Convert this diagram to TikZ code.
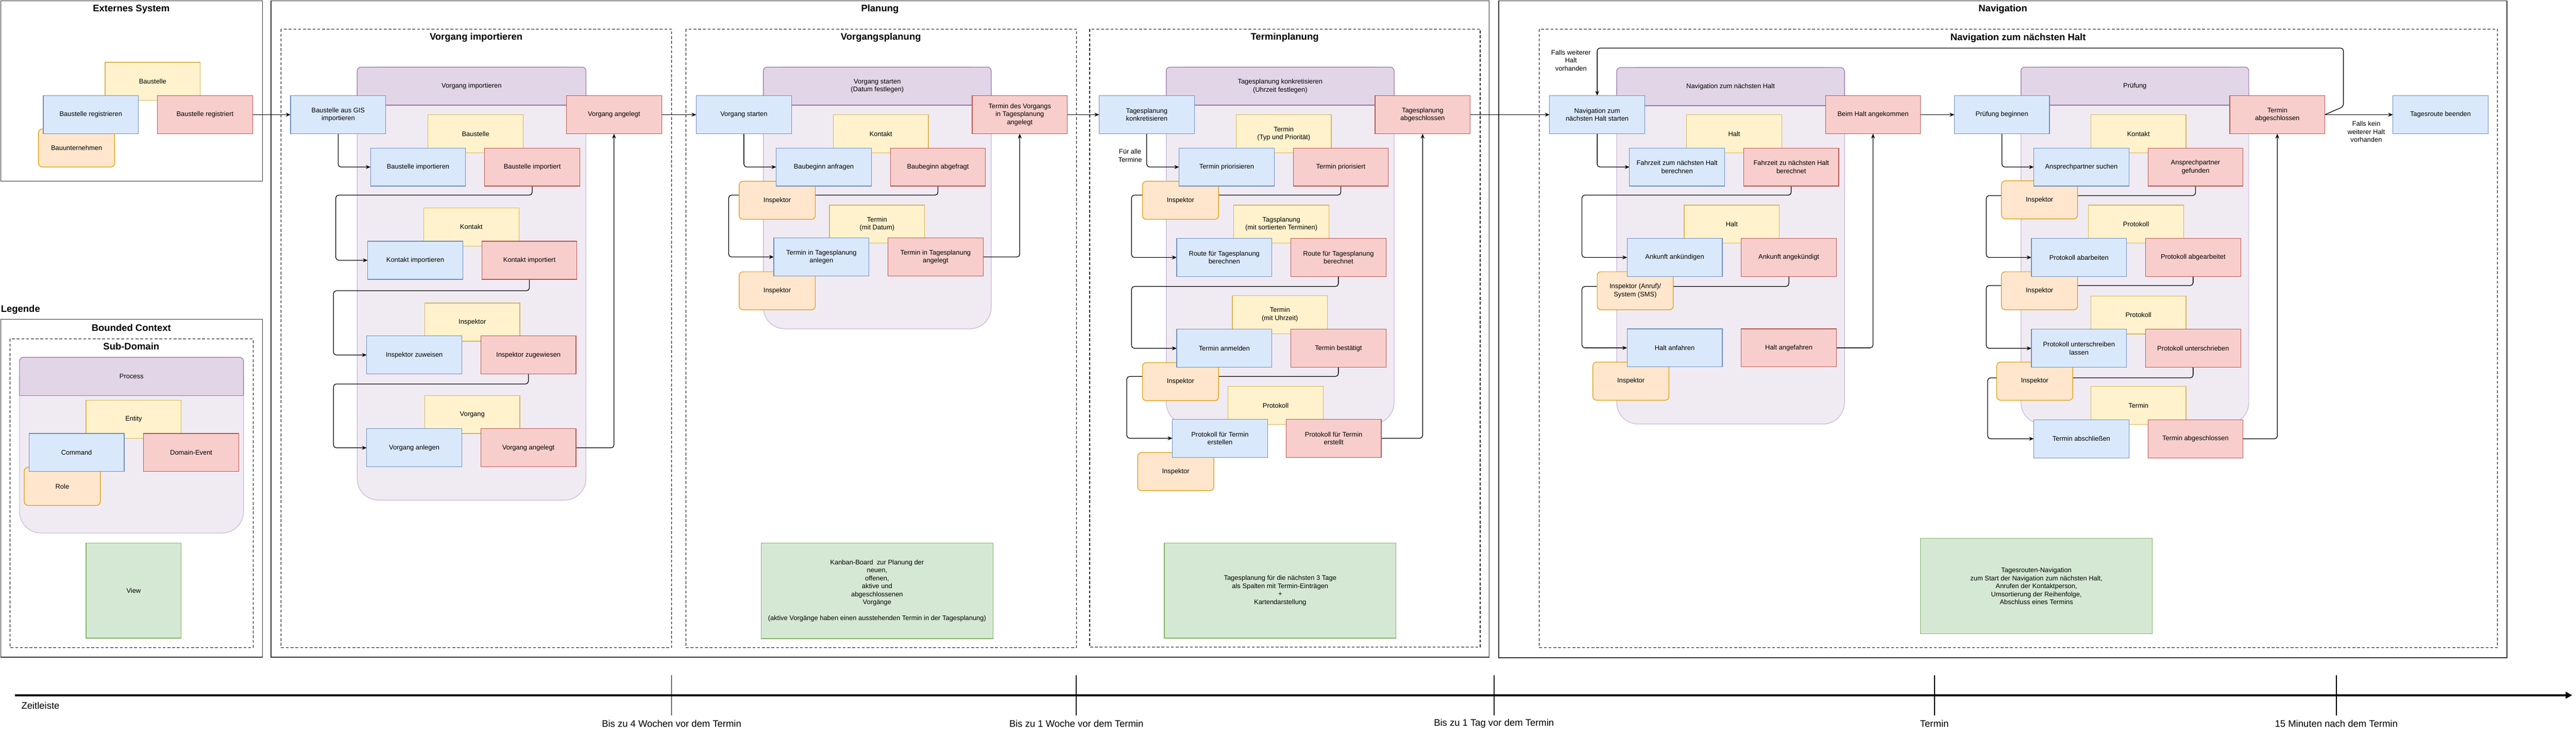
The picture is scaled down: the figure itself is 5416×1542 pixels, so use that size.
\documentclass[tikz,border=0pt]{standalone}
\usepackage{fontspec}
\setmainfont{Liberation Sans}
\usetikzlibrary{arrows.meta}
\definecolor{cmdF}{HTML}{DAE8FC}\definecolor{cmdD}{HTML}{6C8EBF}
\definecolor{evF}{HTML}{F8CECC}\definecolor{evD}{HTML}{B85450}
\definecolor{entF}{HTML}{FFF2CC}\definecolor{entD}{HTML}{D6B656}
\definecolor{roleF}{HTML}{FFE6CC}\definecolor{roleD}{HTML}{D79B00}
\definecolor{procF}{HTML}{E1D5E7}\definecolor{procD}{HTML}{9673A6}
\definecolor{areaF}{HTML}{F0EAF3}\definecolor{areaD}{HTML}{C9B5D6}
\definecolor{viewF}{HTML}{D5E8D4}\definecolor{viewD}{HTML}{82B366}
\definecolor{frameD}{HTML}{333333}
\pgfdeclarelayer{Lzero}\pgfdeclarelayer{Lone}\pgfdeclarelayer{Ltwo}\pgfdeclarelayer{Lthree}
\pgfsetlayers{Lzero,Lone,Ltwo,Lthree,main}
\newcommand{\ProcArea}[7]{%
  \path[fill=areaF, draw=areaD, line width=1.3pt, rounded corners=45pt] (#2,#3) rectangle (#4,#5);
  \path[fill=procF, draw=procD, line width=1.3pt, rounded corners=8pt] (#2,#6) -- (#2,#3) -- (#4,#3) -- (#4,#6);
  \draw[procD, line width=1.3pt] (#2,#6) -- (#4,#6);
  \node (#1) at ({(#2+#4)/2},{(#3+#6)/2}) {#7};
}
\begin{document}
\begin{tikzpicture}[x=1pt,y=-1pt,
  every node/.style={font=\fontsize{14}{16.8}\selectfont, align=center, inner sep=0pt, outer sep=0pt},
  box/.style={draw, line width=1.3pt, minimum width=200pt, minimum height=80pt, anchor=north west},
  cmd/.style={box, fill=cmdF, draw=cmdD},
  evt/.style={box, fill=evF, draw=evD},
  ent/.style={box, fill=entF, draw=entD},
  role/.style={box, fill=roleF, draw=roleD, minimum width=160pt, rounded corners=8pt},
  viewbox/.style={box, fill=viewF, draw=viewD},
  outerframe/.style={draw=frameD, line width=1.6pt},
  dbox/.style={draw=black, line width=1.3pt, dash pattern=on 6pt off 4pt},
  ttl/.style={font=\fontsize{20}{24}\selectfont\bfseries},
  conn/.style={draw, line width=1.4pt, rounded corners=6pt, -{Stealth[length=10pt,width=8pt]}},
]
\useasboundingbox (0,0) rectangle (5416,1542);

% ---------------- background layer: frames and process areas
\begin{pgfonlayer}{Lzero}
\fill[white] (0,0) rectangle (5416,1542);
\draw[outerframe] (1.5,1.5) rectangle (552,381);
\draw[outerframe] (1.5,671) rectangle (552,1381);
\draw[dbox] (21,712) rectangle (532,1361);
\draw[outerframe] (570,1.5) rectangle (3131,1381);
\draw[dbox] (591,61) rectangle (1412,1361);
\draw[dbox] (1442,61) rectangle (2263,1361);
\draw[dbox] (2291,61) rectangle (3112,1360);
\draw[outerframe] (3151,1.5) rectangle (5271,1382);
\draw[dbox] (3236,61) rectangle (5251,1361);
\ProcArea{lgproc}{41}{751}{512}{1120}{831}{Process}
\ProcArea{viproc}{751}{141}{1232}{1051}{221}{Vorgang importieren}
\ProcArea{vpproc}{1605}{141}{2084}{691}{221}{Vorgang starten\\(Datum festlegen)}
\ProcArea{tpproc}{2452}{141}{2931}{891}{221}{Tagesplanung konkretisieren\\(Uhrzeit festlegen)}
\ProcArea{nvproc}{3399}{142}{3878}{891}{222}{Navigation zum nächsten Halt}
\ProcArea{prproc}{4249}{141}{4728}{891}{221}{Prüfung}
\end{pgfonlayer}

% ---------------- entities (yellow)
\begin{pgfonlayer}{Lone}
\node[ent] (exbst) at (221,131) {Baustelle};
\node[ent] (lgent) at (181,841) {Entity};
\node[ent] (bst) at (900,241) {Baustelle};
\node[ent] (kon) at (891,437) {Kontakt};
\node[ent] (insp) at (893,637) {Inspektor};
\node[ent] (vorg) at (893,831) {Vorgang};
\node[ent] (kon2) at (1752,241) {Kontakt};
\node[ent] (tmd) at (1744,431) {Termin\\(mit Datum)};
\node[ent] (ttp) at (2599,241) {Termin\\(Typ und Priorität)};
\node[ent] (tsort) at (2594,431) {Tagsplanung\\(mit sortierten Terminen)};
\node[ent] (tuhr) at (2591,621) {Termin\\(mit Uhrzeit)};
\node[ent] (prot) at (2582,812) {Protokoll};
\node[ent] (halt1) at (3546,241) {Halt};
\node[ent] (halt2) at (3541,431) {Halt};
\node[ent] (kon4) at (4396,241) {Kontakt};
\node[ent] (prot4a) at (4391,431) {Protokoll};
\node[ent] (prot4b) at (4396,622) {Protokoll};
\node[ent] (term4) at (4396,812) {Termin};
\end{pgfonlayer}

% ---------------- roles (orange)
\begin{pgfonlayer}{Lthree}
\node[role] (exbu) at (81,271) {Bauunternehmen};
\node[role] (lgrole) at (51,982) {Role};
\node[role] (inspA) at (1554,381) {Inspektor};
\node[role] (inspB) at (1554,571) {Inspektor};
\node[role] (inspC) at (2402,381) {Inspektor};
\node[role] (inspD) at (2402,762) {Inspektor};
\node[role] (inspE) at (2392,951) {Inspektor};
\node[role] (ias) at (3358,571) {Inspektor (Anruf)/\\System (SMS)};
\node[role] (inspF) at (3349,761) {Inspektor};
\node[role] (inspG) at (4208,380) {Inspektor};
\node[role] (inspH) at (4208,571) {Inspektor};
\node[role] (inspI) at (4198,761) {Inspektor};
\end{pgfonlayer}

% ---------------- titles
\node[ttl] (tExt) at (276,19) {Externes System};
\node[ttl, anchor=west] (tLeg) at (2,651) {Legende};
\node[ttl] (tBC) at (276,689) {Bounded Context};
\node[ttl] (tSD) at (276,728) {Sub-Domain};
\node[ttl] (tPl) at (1850,19) {Planung};
\node[ttl] (tVI) at (1001,79) {Vorgang importieren};
\node[ttl] (tVP) at (1852,79) {Vorgangsplanung};
\node[ttl] (tTP) at (2701,79) {Terminplanung};
\node[ttl] (tNv) at (4211,19) {Navigation};
\node[ttl] (tNH) at (4243,80) {Navigation zum nächsten Halt};

% ---------------- Externes System
\node[cmd] (exreg) at (91,201) {Baustelle registrieren};
\node[evt] (exregd) at (331,201) {Baustelle registriert};

% ---------------- Legende
\node[cmd] (lgcmd) at (61,911) {Command};
\node[evt] (lgevt) at (302,911) {Domain-Event};
\node[viewbox, minimum height=200pt] (lgview) at (181,1141) {View};

% ---------------- Vorgang importieren
\node[cmd] (gis) at (611,201) {Baustelle aus GIS\\importieren};
\node[evt] (vatop) at (1191,201) {Vorgang angelegt};
\node[cmd] (bimp) at (779,311) {Baustelle importieren};
\node[evt] (bimpd) at (1019,311) {Baustelle importiert};
\node[cmd] (kimp) at (773,507) {Kontakt importieren};
\node[evt] (kimpd) at (1013,507) {Kontakt importiert};
\node[cmd] (izu) at (771,706) {Inspektor zuweisen};
\node[evt] (izud) at (1011,706) {Inspektor zugewiesen};
\node[cmd] (vanl) at (771,901) {Vorgang anlegen};
\node[evt] (vand) at (1011,901) {Vorgang angelegt};

% ---------------- Vorgangsplanung
\node[cmd] (vs) at (1464,201) {Vorgang starten};
\node[evt] (tdv) at (2044,201) {Termin des Vorgangs\\in Tagesplanung\\angelegt};
\node[cmd] (ba) at (1632,311) {Baubeginn anfragen};
\node[evt] (bad) at (1872,311) {Baubeginn abgefragt};
\node[cmd] (tta) at (1627,500) {Termin in Tagesplanung\\anlegen};
\node[evt] (ttad) at (1867,500) {Termin in Tagesplanung\\angelegt};
\node[viewbox, minimum width=488pt, minimum height=201pt] (kanban) at (1600,1141)
  {Kanban-Board\ \ zur Planung der\\neuen,\\offenen,\\aktive und\\abgeschlossenen\\Vorgänge\\\mbox{}\\(aktive Vorgänge haben einen ausstehenden Termin in der Tagesplanung)};

% ---------------- Terminplanung
\node[cmd] (tk) at (2311,201) {Tagesplanung\\konkretisieren};
\node[evt] (tab) at (2891,201) {Tagesplanung\\abgeschlossen};
\node[cmd] (tp) at (2479,311) {Termin priorisieren};
\node[evt] (tpd) at (2719,311) {Termin priorisiert};
\node (fuer) at (2376,327) {Für alle\\Termine};
\node[cmd] (rb) at (2474,501) {Route für Tagesplanung\\berechnen};
\node[evt] (rbd) at (2714,501) {Route für Tagesplanung\\berechnet};
\node[cmd] (ta) at (2474,692) {Termin anmelden};
\node[evt] (tad) at (2714,692) {Termin bestätigt};
\node[cmd] (pe) at (2465,881) {Protokoll für Termin\\erstellen};
\node[evt] (ped) at (2704,881) {Protokoll für Termin\\erstellt};
\node[viewbox, minimum width=487pt, minimum height=200pt] (tpview) at (2448,1141)
  {Tagesplanung für die nächsten 3 Tage\\als Spalten mit Termin-Einträgen\\+\\Kartendarstellung};

% ---------------- Navigation
\node[cmd] (nav) at (3258,201) {Navigation zum\\nächsten Halt starten};
\node[evt] (bha) at (3838,201) {Beim Halt angekommen};
\node (fwh) at (3303,127) {Falls weiterer\\Halt\\vorhanden};
\node[cmd] (fz) at (3426,311) {Fahrzeit zum nächsten Halt\\berechnen};
\node[evt] (fzd) at (3666,311) {Fahrzeit zu nächsten Halt\\berechnet};
\node[cmd] (ak) at (3421,501) {Ankunft ankündigen};
\node[evt] (akd) at (3661,501) {Ankunft angekündigt};
\node[cmd] (ha) at (3421,691) {Halt anfahren};
\node[evt] (had) at (3661,691) {Halt angefahren};
\node[cmd] (pb) at (4109,201) {Prüfung beginnen};
\node[evt] (tabg) at (4688,201) {Termin\\abgeschlossen};
\node[cmd] (tre) at (5031,201) {Tagesroute beenden};
\node (fkh) at (4975,277) {Falls kein\\weiterer Halt\\vorhanden};
\node[cmd] (asu) at (4276,311) {Ansprechpartner suchen};
\node[evt] (asd) at (4516,311) {Ansprechpartner\\gefunden};
\node[cmd] (pa) at (4271,501) {Protokoll abarbeiten};
\node[evt] (pad) at (4511,501) {Protokoll abgearbeitet};
\node[cmd] (pu) at (4271,692) {Protokoll unterschreiben\\lassen};
\node[evt] (pud) at (4511,692) {Protokoll unterschrieben};
\node[cmd] (tas) at (4276,882) {Termin abschließen};
\node[evt] (tasd) at (4516,882) {Termin abgeschlossen};
\node[viewbox, minimum width=487pt, minimum height=201pt] (nvview) at (4038,1131)
  {Tagesrouten-Navigation\\zum Start der Navigation zum nächsten Halt,\\Anrufen der Kontaktperson,\\Umsortierung der Reihenfolge,\\Abschluss eines Termins};

% ---------------- connectors
\begin{pgfonlayer}{Ltwo}
\draw[conn] (exregd.east) -- (gis.west);
\draw[conn] (gis.south) |- (bimp.west);
\draw[conn] (bimpd.south) -- ++(0,19) -| ([xshift=-67pt]kimp.west) -- (kimp.west);
\draw[conn] (kimpd.south) -- ++(0,24) -| ([xshift=-70pt]izu.west) -- (izu.west);
\draw[conn] (izud.south) -- ++(0,21) -| ([xshift=-70pt]vanl.west) -- (vanl.west);
\draw[conn] (vand.east) -| (vatop.south);
\draw[conn] (vatop.east) -- (vs.west);
\draw[conn] (vs.south) |- (ba.west);
\draw[conn] (bad.south) -- ++(0,19) -| ([xshift=-95pt]tta.west) -- (tta.west);
\draw[conn] (ttad.east) -| (tdv.south);
\draw[conn] (tdv.east) -- (tk.west);
\draw[conn] (tk.south) |- (tp.west);
\draw[conn] (tpd.south) -- ++(0,19) -| ([xshift=-95pt]rb.west) -- (rb.west);
\draw[conn] (rbd.south) -- ++(0,21) -| ([xshift=-95pt]ta.west) -- (ta.west);
\draw[conn] (tad.south) -- ++(0,19) -| ([xshift=-96pt]pe.west) -- (pe.west);
\draw[conn] (ped.east) -| (tab.south);
\draw[conn] (tab.east) -- (nav.west);
\draw[conn] (nav.south) |- (fz.west);
\draw[conn] (fzd.south) -- ++(0,19) -| ([xshift=-95pt]ak.west) -- (ak.west);
\draw[conn] (akd.south) -- ++(0,21) -| ([xshift=-95pt]ha.west) -- (ha.west);
\draw[conn] (had.east) -| (bha.south);
\draw[conn] (bha.east) -- (pb.west);
\draw[conn] (pb.south) |- (asu.west);
\draw[conn] (asd.south) -- ++(0,20) -| ([xshift=-95pt]pa.west) -- (pa.west);
\draw[conn] (pad.south) -- ++(0,19) -| ([xshift=-95pt]pu.west) -- (pu.west);
\draw[conn] (pud.south) -- ++(0,22) -| ([xshift=-97pt]tas.west) -- (tas.west);
\draw[conn] (tasd.east) -| (tabg.south);
\draw[conn] (tabg.east) -- (tre.west);
\draw[conn] (tabg.east) -- ++(39,-17) -- ++(0,-123) -| (nav.north);
\end{pgfonlayer}

% ---------------- timeline
\coordinate (tlstart) at (31,1461);
\coordinate (tlend) at (5408,1461);
\draw[line width=4.5pt, -{Triangle[length=14pt,width=14pt]}] (tlstart) -- (tlend);
\node[font=\fontsize{20}{24}\selectfont, anchor=west] (zeit) at (45,1483) {Zeitleiste};
\foreach \xx/\lab [count=\i] in {1412/Bis zu 4 Wochen vor dem Termin, 2263/Bis zu 1 Woche vor dem Termin, 3141/Bis zu 1 Tag vor dem Termin, 4067/Termin, 4912/15 Minuten nach dem Termin}{
  \coordinate (tka\i) at (\xx,1419);
  \coordinate (tkb\i) at (\xx,1503);
  \draw[line width=2pt] (tka\i) -- (tkb\i);
  \node[font=\fontsize{20}{24}\selectfont] (tkl\i) at (\xx,1521) {\lab};
}
\end{tikzpicture}
\end{document}
